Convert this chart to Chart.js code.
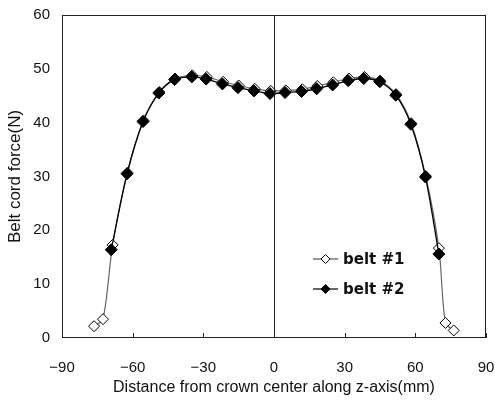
<!DOCTYPE html>
<html lang="en">
<head>
    <meta charset="UTF-8">
    <title>Belt cord force</title>
    <script src="https://cdn.jsdelivr.net/npm/chart.js"></script>
    <style>
        html, body { margin: 0; padding: 0; background: #fff; }
        #wrap { width: 495px; height: 401px; }
    </style>
</head>
<body>
<div id="wrap"><canvas id="myChart" width="495" height="401"></canvas></div>
<script>
    // belt #1 (open diamonds)
    const belt1X = [-76.4, -72.6, -68.5, -62.2, -55.4, -48.7, -42.0, -34.7, -28.5, -21.6, -15.0, -8.2, -1.4,
                    5.0, 12.0, 18.4, 25.2, 31.8, 38.4, 45.0, 51.8, 58.2, 64.4, 70.0, 72.8, 76.3];
    const belt1Y = [2.2, 3.5, 17.3, 30.7, 40.4, 45.7, 48.2, 48.8, 48.5, 47.6, 46.9, 46.3, 45.9,
                    46.0, 46.2, 46.8, 47.5, 48.2, 48.5, 47.8, 45.3, 39.9, 30.1, 16.7, 2.8, 1.4];
    // belt #2 (filled diamonds)
    const belt2X = [-69.1, -62.4, -55.6, -48.9, -42.2, -34.9, -28.8, -21.9, -15.3, -8.5, -1.7,
                    4.7, 11.7, 18.1, 24.9, 31.5, 38.1, 44.9, 51.7, 58.1, 64.3, 70.0];
    const belt2Y = [16.4, 30.5, 40.2, 45.5, 48.0, 48.5, 48.1, 47.2, 46.5, 45.9, 45.4,
                    45.6, 45.8, 46.3, 47.0, 47.8, 48.2, 47.6, 45.1, 39.7, 29.9, 15.6];
    const xTicks = [-90, -60, -30, 0, 30, 60, 90];
    const yTicks = [0, 10, 20, 30, 40, 50, 60];

    const FONT = '"Liberation Sans", Arial, sans-serif';
    const toPoints = (xs, ys) => xs.map((x, i) => ({ x: x, y: ys[i] }));

    // frame, zero line, inner x ticks and legend inside the plot
    const extras = {
        id: 'extras',
        afterDatasetsDraw(chart) {
            const ctx = chart.ctx;
            const a = chart.chartArea;
            const xs = chart.scales.x;
            ctx.save();
            ctx.strokeStyle = '#222';
            ctx.lineWidth = 1;
            ctx.strokeRect(a.left + 0.5, a.top + 0.5, a.right - a.left - 1, a.bottom - a.top - 1);
            const x0 = Math.round(xs.getPixelForValue(0)) + 0.5;
            ctx.beginPath();
            ctx.moveTo(x0, a.top);
            ctx.lineTo(x0, a.bottom);
            ctx.stroke();
            ctx.beginPath();
            xTicks.forEach(v => {
                const px = Math.round(xs.getPixelForValue(v)) + 0.5;
                ctx.moveTo(px, a.bottom);
                ctx.lineTo(px, a.bottom - 5);
            });
            ctx.stroke();

            // legend
            const items = [
                { text: 'belt #1', fill: '#fff', lc: '#555' },
                { text: 'belt #2', fill: '#000', lc: '#000' }
            ];
            const lx = a.left + 251;
            let ly = a.top + 244;
            ctx.font = 'bold 15px "DejaVu Sans", sans-serif';
            ctx.textBaseline = 'middle';
            items.forEach(it => {
                ctx.strokeStyle = it.lc;
                ctx.lineWidth = 1.2;
                ctx.beginPath();
                ctx.moveTo(lx, ly);
                ctx.lineTo(lx + 25, ly);
                ctx.stroke();
                ctx.beginPath();
                ctx.moveTo(lx + 12.5, ly - 4.5);
                ctx.lineTo(lx + 17, ly);
                ctx.lineTo(lx + 12.5, ly + 4.5);
                ctx.lineTo(lx + 8, ly);
                ctx.closePath();
                ctx.fillStyle = it.fill;
                ctx.fill();
                ctx.strokeStyle = '#000';
                ctx.lineWidth = 1;
                ctx.stroke();
                ctx.fillStyle = '#111';
                ctx.fillText(it.text, lx + 30, ly + 1);
                ly += 30;
            });
            ctx.restore();
        }
    };

    const ctx = document.getElementById('myChart').getContext('2d');
    new Chart(ctx, {
        type: 'scatter',
        data: {
            datasets: [
                {
                    label: 'belt #1',
                    data: toPoints(belt1X, belt1Y),
                    showLine: true,
                    borderColor: '#666',
                    borderWidth: 1.2,
                    tension: 0.3,
                    pointStyle: 'rectRot',
                    pointRadius: 5.5,
                    pointBackgroundColor: '#fff',
                    pointBorderColor: '#000',
                    pointBorderWidth: 1,
                    order: 2
                },
                {
                    label: 'belt #2',
                    data: toPoints(belt2X, belt2Y),
                    showLine: true,
                    borderColor: '#000',
                    borderWidth: 1.3,
                    tension: 0.3,
                    pointStyle: 'rectRot',
                    pointRadius: 6,
                    pointBackgroundColor: '#000',
                    pointBorderColor: '#000',
                    pointBorderWidth: 1,
                    order: 1
                }
            ]
        },
        options: {
            responsive: false,
            animation: false,
            layout: { padding: { top: 15, right: 9, left: 0, bottom: 0 } },
            plugins: {
                legend: { display: false },
                tooltip: { enabled: false }
            },
            scales: {
                x: {
                    type: 'linear',
                    min: -90,
                    max: 90,
                    afterBuildTicks: s => { s.ticks = xTicks.map(v => ({ value: v })); },
                    afterFit: s => { s.height = 63; s.paddingLeft = 0; s.paddingRight = 0; },
                    grid: { display: false, drawTicks: false },
                    border: { display: false },
                    ticks: {
                        color: '#111',
                        padding: 21,
                        maxRotation: 0,
                        font: { family: FONT, size: 15 },
                        callback: v => String(v).replace('-', '\u2212')
                    },
                    title: {
                        display: true,
                        text: 'Distance from crown center along z-axis(mm)',
                        color: '#111',
                        padding: { top: 0, bottom: 4 },
                        font: { family: FONT, size: 16 }
                    }
                },
                y: {
                    min: 0,
                    max: 60,
                    afterBuildTicks: s => { s.ticks = yTicks.map(v => ({ value: v })); },
                    afterFit: s => { s.width = 62; s.paddingTop = 0; s.paddingBottom = 0; },
                    grid: { display: false, drawTicks: false },
                    border: { display: false },
                    ticks: {
                        color: '#111',
                        padding: 12,
                        font: { family: FONT, size: 15 }
                    },
                    title: {
                        display: true,
                        text: 'Belt cord force(N)',
                        color: '#111',
                        padding: { top: 5, bottom: 0 },
                        font: { family: FONT, size: 17 }
                    }
                }
            }
        },
        plugins: [extras]
    });
</script>
</body>
</html>
